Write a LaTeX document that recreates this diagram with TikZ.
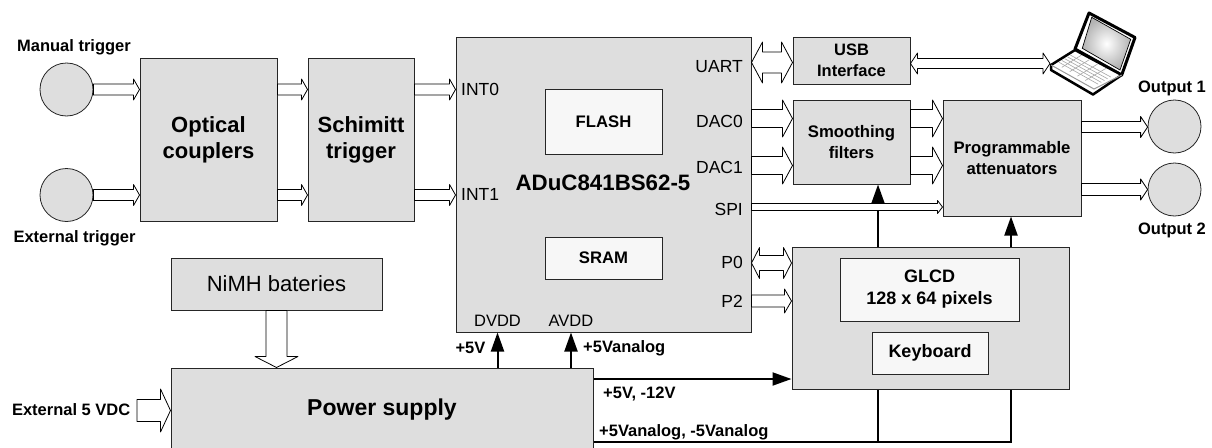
\documentclass[tikz,border=0pt]{standalone}
\usepackage{fontspec}
\setmainfont{Liberation Sans}
\usetikzlibrary{calc,arrows.meta}
\tikzset{
  block/.style={draw=black!85, line width=1pt, fill=black!13, inner sep=0pt, align=center, font=\fontsize{16.7}{24}\selectfont\bfseries},
  inner/.style={block, fill=black!3},
  big/.style={font=\fontsize{22}{26}\selectfont\bfseries},
  port/.style={circle, draw=black!85, line width=.8pt, fill=black!13, inner sep=0pt, minimum size=53pt},
  bold/.style={inner sep=0pt, font=\fontsize{16.5}{19}\selectfont\bfseries},
  pin/.style={inner sep=0pt, font=\fontsize{17.5}{20}\selectfont},
  supply/.style={line width=2pt, black},
  supplyarrow/.style={supply, -{Triangle[length=19pt,width=13pt]}},
  hollow/.style n args={3}{draw=black, line width=.8pt, fill=white, line join=round, to path={
    let \p3=(\tikztostart), \p4=(\tikztotarget), \p1=($(\p4)!#3!(\p3)$) in
    ($(\p3)!#1!90:(\p4)$) -- ($(\p1)!#1!90:(\p4)$) -- ($(\p1)!#2!90:(\p4)$) -- (\p4)
    -- ($(\p1)!#2!-90:(\p4)$) -- ($(\p1)!#1!-90:(\p4)$) -- ($(\p3)!#1!-90:(\p4)$) -- cycle}},
  hollowboth/.style n args={3}{draw=black, line width=.8pt, fill=white, line join=round, to path={
    let \p3=(\tikztostart), \p4=(\tikztotarget), \p1=($(\p4)!#3!(\p3)$), \p2=($(\p3)!#3!(\p4)$) in
    ($(\p2)!#1!90:(\p4)$) -- ($(\p1)!#1!90:(\p4)$) -- ($(\p1)!#2!90:(\p4)$) -- (\p4)
    -- ($(\p1)!#2!-90:(\p4)$) -- ($(\p1)!#1!-90:(\p4)$) -- ($(\p2)!#1!-90:(\p4)$) -- ($(\p2)!#2!-90:(\p4)$)
    -- (\p3) -- ($(\p2)!#2!90:(\p4)$) -- cycle}},
}
\begin{document}
\begin{tikzpicture}[x=1pt,y=-1pt]
\useasboundingbox (0,0) rectangle (1212,447);
% blocks
\node[block, big, minimum width=137pt, minimum height=163pt] (optical) at (208.5,139.5) {Optical\\couplers};
\node[block, big, minimum width=106pt, minimum height=163pt] (schmitt) at (361,139.5) {Schimitt\\trigger};
\node[block, minimum width=295pt, minimum height=295pt] (adu) at (603.5,184.5) {};
\node[inner, minimum width=117pt, minimum height=65pt] (flash) at (603.5,121.5) {FLASH};
\node[inner, minimum width=117pt, minimum height=42pt] (sram) at (603.5,258) {SRAM};
\node[bold, font=\fontsize{22.3}{26}\selectfont\bfseries] (chip) at (603,183) {ADuC841BS62-5};
\node[block, font=\fontsize{22}{26}\selectfont, minimum width=211pt, minimum height=52pt] (nimh) at (276.5,284) {NiMH bateries};
\node[block, font=\fontsize{23}{26}\selectfont\bfseries, minimum width=422pt, minimum height=84pt] (power) at (382,410) {Power supply};
\node[block, minimum width=117pt, minimum height=47pt, font=\fontsize{16.5}{21}\selectfont\bfseries] (usb) at (851.5,60.5) {USB\\Interface};
\node[block, minimum width=117pt, minimum height=84pt, font=\fontsize{16.7}{21}\selectfont\bfseries] (smooth) at (851.5,142) {Smoothing\\filters};
\node[block, minimum width=138pt, minimum height=116pt, font=\fontsize{16.7}{21}\selectfont\bfseries] (prog) at (1012,158) {Programmable\\attenuators};
\node[block, minimum width=277pt, minimum height=142pt] (glcd) at (930.5,318) {};
\node[inner, minimum width=179pt, minimum height=63pt, font=\fontsize{18}{22}\selectfont\bfseries] (lcd) at (929.5,289.5) {GLCD\\128 x 64 pixels};
\node[inner, minimum width=116pt, minimum height=42pt, font=\fontsize{18}{22}\selectfont\bfseries] (keyb) at (930,353) {Keyboard};
% round ports
\node[port] (manual) at (66.5,89.5) {};
\node[port] (external) at (66.5,195) {};
\node[port] (outa) at (1174.5,126.5) {};
\node[port] (outb) at (1174.5,189.5) {};
\node[bold] (manuallbl) at (74,47) {Manual trigger};
\node[bold] (externallbl) at (74.5,238) {External trigger};
\node[bold] (outalbl) at (1172,88) {Output 1};
\node[bold] (outblbl) at (1172,230) {Output 2};
% pin names
\foreach \m/\t/\lvl in {int0/INT0/89, int1/INT1/194}
    \node[pin, anchor=west] (\m) at (461,\lvl) {\t};
\foreach \m/\t/\lvl in {uartlbl/UART/67, dac0lbl/DAC0/121, dac1lbl/DAC1/167, spilbl/SPI/209, p0lbl/P0/262, p2lbl/P2/301}
    \node[pin, anchor=east] (\m) at (743,\lvl) {\t};
\node[pin, font=\fontsize{16.5}{19}\selectfont] (dvdd) at (497.5,321) {DVDD};
\node[pin, font=\fontsize{16.5}{19}\selectfont] (avdd) at (571,321) {AVDD};
% levels of the wide arrows
\foreach \m/\lvl in {uart/62.5, dac0/118.5, dac1/165.5, spi/207, p0/263, p2/301, link/63.5, outp/127, outq/189.5}
    \coordinate (\m) at (0,\lvl);
\coordinate (extin) at (137,410.5);
\coordinate (laptop) at (1050,0);
% trigger inputs
\foreach \m in {manual,external} {
    \draw[hollow={5.5pt}{10.5pt}{6pt}] (\m.east) to (optical.west|-\m.east);
    \draw[hollow={5.5pt}{10.5pt}{6pt}] (optical.east|-\m.east) to (schmitt.west|-\m.east);
    \draw[hollow={5.5pt}{10.5pt}{6pt}] (schmitt.east|-\m.east) to (adu.west|-\m.east);
}
% power
\draw[hollow={10.5pt}{21.5pt}{11pt}] (nimh.south) to (power.north-|nimh.south);
\draw[hollow={11pt}{21.5pt}{10pt}] (extin) to (power.west|-extin);
\coordinate (tapa) at (878,0);
\coordinate (tapb) at (1011,0);
\coordinate (bus) at (0,441.7);
\coordinate (main) at (0,379);
\draw[supplyarrow] (power.north-|dvdd.center) -- (adu.south-|dvdd.center);
\draw[supplyarrow] (power.north-|avdd.center) -- (adu.south-|avdd.center);
\draw[supplyarrow] (power.east|-main) -- (glcd.west|-main);
\draw[supply] (power.east|-bus) -| (tapb|-glcd.south);
\draw[supply] (tapa|-bus) -- (tapa|-glcd.south);
\draw[supplyarrow] (tapa|-glcd.north) -- (tapa|-smooth.south);
\draw[supplyarrow] (tapb|-glcd.north) -- (tapb|-prog.south);
\node[bold] (fivev) at (470.5,348) {+5V};
\node[bold, anchor=west] (fiveva) at (583,348) {+5Vanalog};
\node[bold, anchor=west] (fivedig) at (603,394) {+5V, -12V};
\node[bold, anchor=west] (fiveana) at (599,432) {+5Vanalog, -5Vanalog};
\node[bold, anchor=east] (extlbl) at (130.5,410) {External 5 VDC};
% chip outputs
\draw[hollowboth={10.5pt}{20.5pt}{11pt}] (adu.east|-uart) to (usb.west|-uart);
\draw[hollowboth={5pt}{10.5pt}{7pt}] (usb.east|-link) to (laptop|-link);
\foreach \m in {dac0,dac1} {
    \draw[hollow={9pt}{18.5pt}{10pt}] (adu.east|-\m) to (smooth.west|-\m);
    \draw[hollow={9pt}{18.5pt}{10pt}] (smooth.east|-\m) to (prog.west|-\m);
}
\draw[hollow={3.5pt}{6.5pt}{5pt}] (adu.east|-spi) to (prog.west|-spi);
\draw[hollowboth={7.5pt}{15.5pt}{8pt}] (adu.east|-p0) to (glcd.west|-p0);
\draw[hollow={6pt}{12pt}{7pt}] (adu.east|-p2) to (glcd.west|-p2);
\draw[hollow={5.5pt}{10.5pt}{7pt}] (prog.east|-outp) to (outa.west|-outp);
\draw[hollow={6pt}{10.5pt}{7pt}] (prog.east|-outq) to (outb.west|-outq);
% laptop
\draw[black, line width=3pt, line join=round, fill=white] (1089,13) -- (1135,37.5) -- (1121.7,75) -- (1075,49) -- cycle;
\shade[inner color=white, outer color=black!30] (1091.7,17.3) -- (1130.7,39.3) -- (1120,70) -- (1082.3,48.3) -- cycle;
\draw[black, line width=.7pt] (1091.7,17.3) -- (1130.7,39.3) -- (1120,70) -- (1082.3,48.3) -- cycle;
\draw[black, line width=2.5pt, line join=round, fill=white] (1051,65) -- (1075,50) -- (1121.7,75) -- (1093,94.5) -- (1051,70) -- cycle;
\draw[black!40, line width=1pt] (1051,65) -- (1094,89) -- (1121.7,75);
\foreach \t in {0.15,0.3,...,0.9}
    \draw[black!35, line width=.6pt] ($(1056,64)!\t!(1075,52)$) -- ($(1095,86)!\t!(1116,74)$);
\foreach \t in {0.15,0.35,...,0.9}
    \draw[black!35, line width=.6pt] ($(1056,64)!\t!(1095,86)$) -- ($(1075,52)!\t!(1116,74)$);
\end{tikzpicture}
\end{document}
